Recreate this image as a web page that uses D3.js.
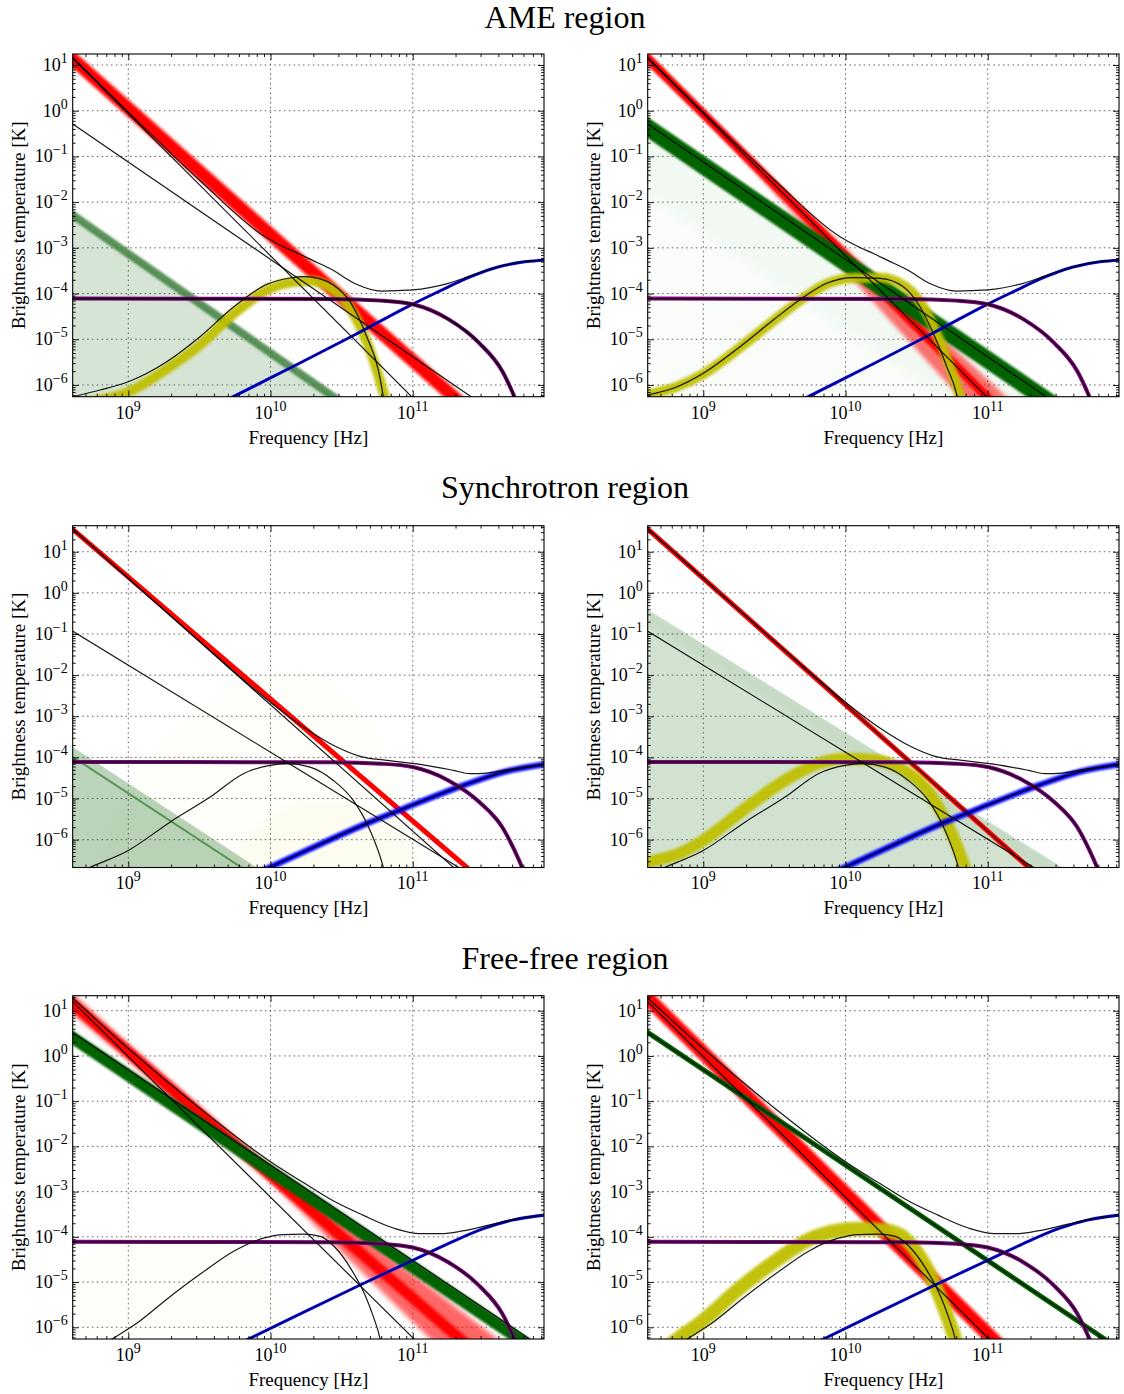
<!DOCTYPE html>
<html>
<head>
<meta charset="utf-8">
<script src="https://cdn.jsdelivr.net/npm/d3@7"></script>
<style>
  body { margin: 0; background: #fff; }
  svg { display: block; }
  text { font-family: "Liberation Serif", "Times New Roman", serif; fill: #000; }
</style>
</head>
<body>
<svg id="fig" width="1124" height="1394"></svg>
<script>
// All spectra are stored as [log10(frequency / Hz), log10(T / K)] pairs.
// Spread arrays carry a third entry: [log10 ν, upper log10 T, lower log10 T].

const freqLimits = [8.609, 11.923];
const tempLimits = [[-6.257, 1.241], [-6.677, 1.633], [-6.259, 1.332]];
const regionTitles = ["AME region", "Synchrotron region", "Free-free region"];
const freqTicks = [9, 10, 11];
const tempTicks = [1, 0, -1, -2, -3, -4, -5, -6];

// CMB anisotropy in brightness temperature (same in every region)
const cmbSpectrum = [[8.45,-4.11],[10.43,-4.12],[10.78,-4.155],[11.0,-4.235],[11.25,-4.56],[11.47,-5.09],[11.63,-5.70],[11.715,-6.257],[11.8,-6.94],[11.9,-7.94],[12.0,-9.0]];

// ---------- AME region: input components ----------
const ameTrueSync = [[8.45, 1.641], [12.2, -10.007]];
const ameTrueFreeFree = [[8.45, 0.049], [12.2, -7.939]];
const ameTrueDust = [[9.4,-6.80],[9.738,-6.257],[10.207,-5.52],[10.6,-4.89],[11.0,-4.23],[11.2,-3.93],[11.37,-3.68],[11.6,-3.42],[11.8,-3.30],[11.95,-3.265]];
const ameTrueTotal = [[8.45,1.652],[8.609,1.163],[9.0,-0.03],[9.5,-1.516],[9.961,-2.756],[10.08,-2.96],[10.2,-3.13],[10.3,-3.28],[10.43,-3.475],[10.6,-3.79],[10.78,-3.945],[11.0,-3.92],[11.25,-3.776],[11.4,-3.62],[11.6,-3.415],[11.8,-3.295],[11.95,-3.265]];
const ameTrueAmeA = [[8.55,-6.30],[8.609,-6.257],[8.801,-6.11],[9.0,-5.929],[9.27,-5.491],[9.504,-4.944],[9.738,-4.30],[9.973,-3.80],[10.137,-3.66],[10.243,-3.631],[10.35,-3.68],[10.442,-3.813],[10.559,-4.178],[10.677,-4.944],[10.758,-5.672],[10.793,-6.257],[10.81,-6.6]];
const ameTrueAmeB = [[8.55,-6.27],[8.614,-6.219],[8.789,-6.073],[9.0,-5.745],[9.258,-5.163],[9.492,-4.579],[9.727,-4.032],[9.868,-3.776],[10.055,-3.653],[10.243,-3.666],[10.406,-3.85],[10.524,-4.288],[10.617,-4.87],[10.712,-5.6],[10.782,-6.219],[10.80,-6.5]];

// AME region, left fit
const ameFitSyncA = [[8.45, 1.570], [12.2, -8.780]];
const ameFitFreeFreeA = [[8.45, -1.937, -20], [12.2, -10.074, -28]];
const ameFitFreeFreeEdgeA = [[8.45, -1.937], [12.2, -10.074]];
const ameFitAmeA = [[8.60,-6.48],[8.731,-6.373],[9.0,-6.154],[9.27,-5.651],[9.504,-5.126],[9.738,-4.45],[9.973,-3.93],[10.137,-3.76],[10.278,-3.726],[10.442,-3.922],[10.559,-4.316],[10.677,-5.06],[10.758,-5.782],[10.812,-6.373],[10.83,-6.6]];

// AME region, right fit
const ameFitSyncB = [[8.45, 1.641], [12.2, -10.007]];
const ameFitSyncSpreadB = [[8.45, 1.458, 1.785], [12.2, -9.339, -11.04]];
const ameFitFreeFreeB = [[8.45, -0.032], [12.2, -8.001]];
const ameFitFreeFreeNearB = [[8.45, -0.032, -1.5], [12.2, -8.001, -9.5]];
const ameFitFreeFreeTailB = [[8.45, -0.032, -6], [12.2, -8.001, -14]];
const ameFitAmeB = [[8.55,-6.30],[8.614,-6.22],[8.789,-6.07],[9.0,-5.76],[9.258,-5.18],[9.492,-4.60],[9.727,-4.05],[9.868,-3.79],[10.055,-3.66],[10.243,-3.655],[10.42,-3.85],[10.545,-4.28],[10.64,-4.87],[10.735,-5.6],[10.805,-6.25],[10.83,-6.55]];

// ---------- Synchrotron region: input components ----------
const synTrueSync = [[8.45, 2.041], [12.2, -9.479]];
const synTrueFreeFree = [[8.45, -0.595], [12.2, -8.530]];
const synTrueAme = [[8.65,-6.79],[8.731,-6.67],[9.0,-6.263],[9.293,-5.574],[9.575,-4.965],[9.809,-4.396],[9.996,-4.194],[10.114,-4.153],[10.278,-4.235],[10.442,-4.56],[10.582,-5.046],[10.70,-5.776],[10.793,-6.670],[10.81,-6.9]];
const synTrueDust = [[9.8,-6.97],[9.996,-6.67],[10.7,-5.574],[10.934,-5.248],[11.356,-4.681],[11.637,-4.357],[11.95,-4.16]];
const synTrueTotal = [[8.45,2.042],[8.609,1.56],[9.0,0.355],[9.5,-1.174],[10.0,-2.66],[10.231,-3.261],[10.466,-3.748],[10.629,-3.974],[10.817,-4.072],[11.051,-4.169],[11.286,-4.315],[11.403,-4.396],[11.52,-4.381],[11.637,-4.315],[11.95,-4.15]];

// Synchrotron region, left fit
const synFitSyncA = [[8.45, 2.017], [12.2, -9.106]];
const synFitFreeFreeA = [[8.45, -3.388, -20], [12.2, -11.882, -28]];
const synFitFreeFreeStreakA = [[8.45, -3.628], [12.2, -12.122]];
const synFitAmeCloudA = [[8.75,-6.9,-8],[9.0,-4.8,-8],[9.3,-3.4,-8],[9.6,-2.5,-8],[9.9,-2.0,-8],[10.15,-1.9,-8],[10.4,-2.2,-8],[10.65,-3.0,-8],[10.85,-4.2,-8],[11.0,-5.5,-8],[11.1,-6.9,-8]];
const synFitAmeCoreA = [[9.6,-6.9,-8],[9.9,-5.8,-8],[10.2,-5.2,-8],[10.5,-5.1,-8],[10.75,-5.5,-8],[10.95,-6.2,-8],[11.05,-6.9,-8]];

// Synchrotron region, right fit
const synFitFreeFreeB = [[8.45, -0.067, -20], [12.2, -8.130, -28]];
const synFitFreeFreeTopB = [[8.45, -0.067, -0.45], [12.2, -8.130, -8.51]];
const synFitAmeB = [[8.5,-6.75],[8.59,-6.588],[8.824,-6.35],[9.0,-6.02],[9.293,-5.25],[9.575,-4.559],[9.809,-4.152],[9.996,-4.031],[10.184,-4.055],[10.372,-4.235],[10.536,-4.64],[10.653,-5.209],[10.747,-5.857],[10.84,-6.67],[10.864,-6.91]];

// ---------- Free-free region: input components ----------
const ffTrueSync = [[8.45, 1.693], [12.2, -9.958]];
const ffTrueFreeFree = [[8.45, 0.855], [12.2, -7.057]];
const ffTrueAme = [[8.80,-6.43],[8.886,-6.259],[9.059,-5.912],[9.293,-5.323],[9.516,-4.80],[9.75,-4.30],[9.95,-4.03],[10.09,-3.95],[10.23,-3.94],[10.35,-3.99],[10.45,-4.22],[10.57,-4.73],[10.665,-5.29],[10.723,-5.765],[10.77,-6.25],[10.785,-6.5]];
const ffTrueDust = [[9.5,-6.78],[9.856,-6.243],[10.63,-5.065],[11.005,-4.512],[11.25,-4.15],[11.497,-3.82],[11.7,-3.63],[11.95,-3.51]];
const ffTrueTotal = [[8.45,1.75],[8.609,1.281],[9.0,0.164],[9.5,-1.15],[10.0,-2.337],[10.231,-2.80],[10.45,-3.22],[10.65,-3.52],[10.86,-3.80],[11.05,-3.93],[11.2,-3.93],[11.35,-3.87],[11.55,-3.73],[11.7,-3.62],[11.95,-3.51]];

// Free-free region, left fit
const ffFitSyncSpreadA = [[8.45,1.83,1.33],[8.609,1.368,0.928],[9.0,0.265,-0.095],[9.5,-1.115,-1.435],[10.0,-2.474,-2.794],[10.6,-3.886,-4.646],[11.15,-5.181,-6.341],[11.6,-6.265,-7.705],[12.0,-7.223,-8.923]];
const ffFitSyncA = [[8.45, 1.58], [12.2, -8.616]];
const ffFitFreeFreeA = [[8.45, 0.737], [12.2, -7.213]];
const ffFitAmeHazeA = [[8.45,-5.0,-8],[8.8,-4.3,-8],[9.2,-3.9,-8],[9.6,-3.9,-8],[9.9,-4.5,-8],[10.1,-5.5,-8],[10.25,-7,-8]];

// Free-free region, right fit
const ffFitSyncB = [[8.45, 1.773], [12.2, -9.878]];
const ffFitFreeFreeB = [[8.45, 0.855], [12.2, -7.057]];
const ffFitAmeB = [[8.70,-6.55],[8.82,-6.259],[9.0,-5.85],[9.25,-5.15],[9.5,-4.55],[9.75,-4.05],[9.95,-3.86],[10.1,-3.82],[10.25,-3.84],[10.38,-3.95],[10.48,-4.25],[10.58,-4.75],[10.66,-5.3],[10.72,-5.8],[10.77,-6.26],[10.79,-6.5]];

// ---------- layout & drawing ----------
const colX = [72.7, 647.7];
const plotW = 471.3;
const rowY = [54, 525.7, 995.7];
const rowH = [342.7, 341.8, 343.3];
const titleY = [28, 498, 969];

const RED = "#ff0000", GREEN = "#006400", FAN = "#2f7a2f", YELLOW = "#bfbf00",
      BLUE = "#0000ff", PURPLE = "#800080", INK = "#000";

const svg = d3.select("#fig");
const defs = svg.append("defs");
const blurs = { s06: 0.6, s10: 1.0, s15: 1.5, s20: 2.0, s25: 2.5, s40: 4.0 };
Object.entries(blurs).forEach(([k, s]) => {
  defs.append("filter").attr("id", k)
    .attr("filterUnits", "userSpaceOnUse")
    .attr("x", -1500).attr("y", -1500).attr("width", 5000).attr("height", 5000)
    .append("feGaussianBlur").attr("stdDeviation", s);
});

regionTitles.forEach((t, i) => {
  svg.append("text").attr("x", 565).attr("y", titleY[i])
    .attr("text-anchor", "middle").attr("font-size", 32).text(t);
});

function expLabel(sel, e) {
  sel.append("tspan").text("10");
  sel.append("tspan").attr("dy", -8).attr("font-size", 14)
    .text(e < 0 ? "\u2212" + (-e) : String(e));
}

function panel(row, col, paint) {
  const h = rowH[row];
  const [lo, hi] = tempLimits[row];
  const x = d3.scaleLog().domain(freqLimits.map(v => 10 ** v)).range([0, plotW]);
  const y = d3.scaleLog().domain([10 ** lo, 10 ** hi]).range([h, 0]);
  const g = svg.append("g").attr("transform", `translate(${colX[col]},${rowY[row]})`);
  const clipId = `clip-${row}-${col}`;
  defs.append("clipPath").attr("id", clipId)
    .append("rect").attr("width", plotW).attr("height", h);

  // dotted grid at the decades
  const grid = g.append("g").attr("stroke", "#555").attr("stroke-width", 0.9)
    .attr("stroke-dasharray", "1.6,3.2");
  freqTicks.forEach(t => grid.append("line")
    .attr("x1", x(10 ** t)).attr("x2", x(10 ** t)).attr("y1", 0).attr("y2", h));
  tempTicks.forEach(t => grid.append("line")
    .attr("y1", y(10 ** t)).attr("y2", y(10 ** t)).attr("x1", 0).attr("x2", plotW));

  const body = g.append("g").attr("clip-path", `url(#${clipId})`);
  const line = d3.line().x(d => x(10 ** d[0])).y(d => y(10 ** d[1])).curve(d3.curveMonotoneX);
  const area = d3.area().x(d => x(10 ** d[0]))
    .y1(d => y(10 ** d[1])).y0(d => y(10 ** d[2])).curve(d3.curveMonotoneX);

  const api = {
    stroke(data, color, width, blur, opacity) {
      body.append("path").attr("d", line(data))
        .attr("fill", "none").attr("stroke", color).attr("stroke-width", width)
        .attr("stroke-linejoin", "round").attr("stroke-linecap", "butt")
        .attr("stroke-opacity", opacity ?? 1)
        .attr("filter", blur ? `url(#${blur})` : null);
    },
    fill(data, color, opacity, blur) {
      body.append("path").attr("d", area(data))
        .attr("fill", color).attr("fill-opacity", opacity)
        .attr("filter", blur ? `url(#${blur})` : null);
    },
    truth(data, width) {
      body.append("path").attr("d", line(data))
        .attr("fill", "none").attr("stroke", INK).attr("stroke-width", width ?? 1.2)
        .attr("stroke-opacity", 0.9);
    }
  };
  paint(api);

  // frame
  g.append("rect").attr("width", plotW).attr("height", h)
    .attr("fill", "none").attr("stroke", "#000").attr("stroke-width", 1.1);

  // inward ticks on all four sides
  const minorX = [], minorY = [];
  for (let d = 8; d <= 11; d++) for (let m = 2; m <= 9; m++) {
    const v = m * 10 ** d;
    if (v > 10 ** freqLimits[0] && v < 10 ** freqLimits[1]) minorX.push(v);
  }
  for (let d = -7; d <= 1; d++) for (let m = 2; m <= 9; m++) {
    const v = m * 10 ** d;
    if (v > 10 ** lo && v < 10 ** hi) minorY.push(v);
  }
  const majorX = freqTicks.map(t => 10 ** t), majorY = tempTicks.map(t => 10 ** t);
  const axes = [
    [d3.axisBottom(x), `translate(0,${h})`, majorX, minorX],
    [d3.axisTop(x), "translate(0,0)", majorX, minorX],
    [d3.axisLeft(y), "translate(0,0)", majorY, minorY],
    [d3.axisRight(y), `translate(${plotW},0)`, majorY, minorY]
  ];
  axes.forEach(([ax, tr, maj, min]) => {
    [[maj, -6], [min, -3]].forEach(([vals, size]) => {
      const a = g.append("g").attr("transform", tr)
        .call(ax.tickValues(vals).tickSize(size).tickFormat(""));
      a.select(".domain").remove();
      a.selectAll("line").attr("stroke", "#000").attr("stroke-width", 0.9);
    });
  });

  // tick labels
  freqTicks.forEach(t => {
    const tx = g.append("text").attr("x", x(10 ** t)).attr("y", h + 22)
      .attr("text-anchor", "middle").attr("font-size", 18);
    expLabel(tx, t);
  });
  tempTicks.forEach(t => {
    const tx = g.append("text").attr("x", -5).attr("y", y(10 ** t) + 6)
      .attr("text-anchor", "end").attr("font-size", 18);
    expLabel(tx, t);
  });

  g.append("text").attr("x", plotW / 2).attr("y", h + 47)
    .attr("text-anchor", "middle").attr("font-size", 19).text("Frequency [Hz]");
  g.append("text").attr("transform", `translate(-48,${h / 2}) rotate(-90)`)
    .attr("text-anchor", "middle").attr("font-size", 19).text("Brightness temperature [K]");
}

function commonTop(api, dust, dustWidth, dustBlur) {
  api.stroke(dust, BLUE, dustWidth, dustBlur);
  api.stroke(cmbSpectrum, PURPLE, 4);
}

// AME region, left
panel(0, 0, api => {
  api.fill(ameFitFreeFreeA, FAN, 0.2);
  api.stroke(ameFitFreeFreeEdgeA, "#3d7f3d", 8, "s10", 0.85);
  api.stroke(ameFitSyncA, RED, 13, "s15");
  api.stroke(ameFitAmeA, YELLOW, 10, "s15", 0.95);
  commonTop(api, ameTrueDust, 3);
  api.truth(ameTrueSync); api.truth(ameTrueFreeFree); api.truth(ameTrueAmeA);
  api.truth(ameTrueDust, 1); api.truth(cmbSpectrum, 1.8); api.truth(ameTrueTotal);
});

// AME region, right
panel(0, 1, api => {
  api.fill(ameFitFreeFreeTailB, FAN, 0.02, "s40");
  api.fill(ameFitFreeFreeNearB, FAN, 0.03, "s40");
  api.fill(ameFitSyncSpreadB, RED, 0.55, "s20");
  api.stroke(ameFitSyncB, RED, 9, "s10");
  api.stroke(ameFitFreeFreeB, GREEN, 17, "s10");
  api.stroke(ameFitAmeB, YELLOW, 10, "s15", 0.95);
  commonTop(api, ameTrueDust, 3);
  api.truth(ameTrueSync); api.truth(ameTrueFreeFree); api.truth(ameTrueAmeB);
  api.truth(ameTrueDust, 1); api.truth(cmbSpectrum, 1.4); api.truth(ameTrueTotal);
});

// Synchrotron region, left
panel(1, 0, api => {
  api.fill(synFitAmeCloudA, YELLOW, 0.018, "s40");
  api.fill(synFitAmeCoreA, YELLOW, 0.035, "s40");
  api.fill(synFitFreeFreeA, FAN, 0.33);
  api.stroke(synFitFreeFreeStreakA, "#3f863f", 2, null, 0.8);
  api.stroke(synFitSyncA, RED, 5, "s06");
  commonTop(api, synTrueDust, 6, "s10");
  api.truth(synTrueSync); api.truth(synTrueFreeFree); api.truth(synTrueAme);
  api.truth(synTrueDust); api.truth(cmbSpectrum, 1.4); api.truth(synTrueTotal);
});

// Synchrotron region, right
panel(1, 1, api => {
  api.fill(synFitFreeFreeB, FAN, 0.22);
  api.fill(synFitFreeFreeTopB, FAN, 0.08, "s20");
  api.stroke(synTrueSync, RED, 5, "s06");
  api.stroke(synFitAmeB, YELLOW, 12, "s15", 0.95);
  commonTop(api, synTrueDust, 6, "s10");
  api.truth(synTrueSync); api.truth(synTrueFreeFree); api.truth(synTrueAme);
  api.truth(synTrueDust); api.truth(cmbSpectrum, 1.4); api.truth(synTrueTotal);
});

// Free-free region, left
panel(2, 0, api => {
  api.fill(ffFitAmeHazeA, YELLOW, 0.015, "s40");
  api.fill(ffFitSyncSpreadA, RED, 0.6, "s25");
  api.stroke(ffFitSyncA, RED, 11, "s15");
  api.stroke(ffFitFreeFreeA, GREEN, 12, "s10");
  commonTop(api, ffTrueDust, 3);
  api.truth(ffTrueSync); api.truth(ffTrueFreeFree); api.truth(ffTrueAme);
  api.truth(ffTrueDust, 1); api.truth(cmbSpectrum, 1.4); api.truth(ffTrueTotal);
});

// Free-free region, right
panel(2, 1, api => {
  api.stroke(ffFitSyncB, RED, 14, "s15");
  api.stroke(ffFitFreeFreeB, GREEN, 5, "s06");
  api.stroke(ffFitAmeB, YELLOW, 14, "s15", 0.95);
  commonTop(api, ffTrueDust, 3);
  api.truth(ffTrueSync); api.truth(ffTrueFreeFree); api.truth(ffTrueAme);
  api.truth(ffTrueDust, 1); api.truth(cmbSpectrum, 1.4); api.truth(ffTrueTotal);
});
</script>
</body>
</html>
